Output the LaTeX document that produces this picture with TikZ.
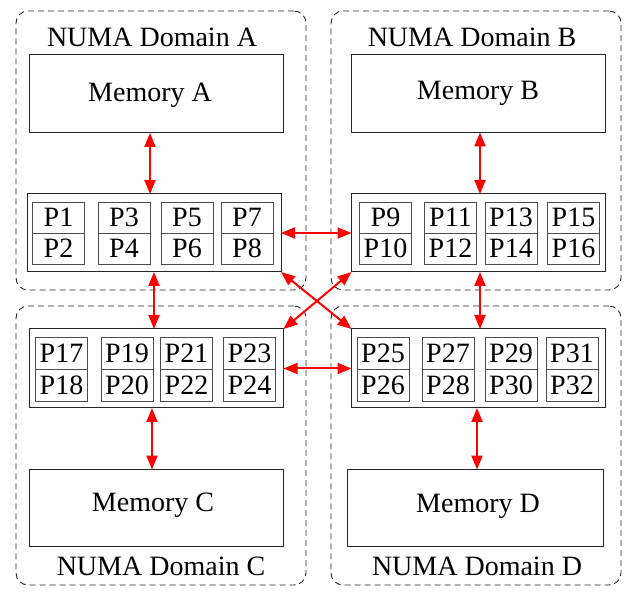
\documentclass[tikz,border=0pt]{standalone}
\usepackage{fontspec}
\setmainfont{Liberation Serif}
\usetikzlibrary{arrows.meta}
\begin{document}
\begin{tikzpicture}[x=1pt,y=-1pt,
  every node/.style={font=\fontsize{28}{30}\selectfont, inner sep=0pt, outer sep=0pt},
  numadom/.style={draw=black!85, line width=0.9pt, dash pattern=on 6pt off 4pt, rounded corners=12pt, minimum width=290pt, minimum height=279pt},
  membox/.style={draw=black!85, line width=1pt, minimum width=254pt, minimum height=78pt},
  procbox/.style={draw=black!85, line width=1pt, minimum width=254pt, minimum height=79pt},
  cell/.style={draw=black!70, line width=0.8pt, minimum width=52pt, minimum height=31pt},
  link/.style={draw=red, line width=2pt, {Triangle[length=14pt,width=11pt]}-{Triangle[length=14pt,width=11pt]}}
]
\useasboundingbox (0,0) rectangle (632,593);
% domains
\node[numadom] (domA) at (161,150.5) {};
\node[numadom] (domB) at (476,150.5) {};
\node[numadom] (domC) at (161,445.5) {};
\node[numadom] (domD) at (476,445.5) {};
\node (labA) at (152,37) {NUMA Domain A};
\node (labB) at (472,37) {NUMA Domain B};
\node (labC) at (161,566) {NUMA Domain C};
\node (labD) at (477,566) {NUMA Domain D};
% memories
\node[membox] (memA) at (156.5,94) {};
\node (memAtxt) at (150,95) {Memory A};
\node[membox] (memB) at (478,93.5) {Memory B};
\node[membox, minimum height=77pt] (memC) at (156.5,508) {};
\node (memCtxt) at (153,505) {Memory C};
\node[membox, minimum width=256pt, minimum height=77pt] (memD) at (475,508) {};
\node (memDtxt) at (478,506) {Memory D};
% processor boxes
\node[procbox, minimum height=78pt] (procA) at (154,233) {};
\node[procbox, minimum height=78pt] (procB) at (478.5,233) {};
\node[procbox] (procC) at (156.5,368.5) {};
\node[procbox] (procD) at (478.5,368.5) {};
% cells A
\node[cell] (p1) at (58.5,217.5) {P1};
\node[cell] (p2) at (58.5,248.5) {P2};
\node[cell] (p3) at (124,217.5) {P3};
\node[cell] (p4) at (124,248.5) {P4};
\node[cell] (p5) at (187,217.5) {P5};
\node[cell] (p6) at (187,248.5) {P6};
\node[cell] (p7) at (247,217.5) {P7};
\node[cell] (p8) at (247,248.5) {P8};
% cells B
\node[cell] (p9) at (385.5,217.5) {P9};
\node[cell] (p10) at (385.5,248.5) {P10};
\node[cell] (p11) at (450.5,217.5) {P11};
\node[cell] (p12) at (450.5,248.5) {P12};
\node[cell] (p13) at (511,217.5) {P13};
\node[cell] (p14) at (511,248.5) {P14};
\node[cell] (p15) at (573.5,217.5) {P15};
\node[cell] (p16) at (573.5,248.5) {P16};
% cells C
\node[cell, minimum height=32pt] (p17) at (61.5,353) {P17};
\node[cell, minimum height=32pt] (p18) at (61.5,385) {P18};
\node[cell, minimum height=32pt] (p19) at (127,353) {P19};
\node[cell, minimum height=32pt] (p20) at (127,385) {P20};
\node[cell, minimum height=32pt] (p21) at (186.5,353) {P21};
\node[cell, minimum height=32pt] (p22) at (186.5,385) {P22};
\node[cell, minimum height=32pt] (p23) at (249.5,353) {P23};
\node[cell, minimum height=32pt] (p24) at (249.5,385) {P24};
% cells D
\node[cell, minimum height=32pt] (p25) at (383,353) {P25};
\node[cell, minimum height=32pt] (p26) at (383,385) {P26};
\node[cell, minimum height=32pt] (p27) at (448,353) {P27};
\node[cell, minimum height=32pt] (p28) at (448,385) {P28};
\node[cell, minimum height=32pt] (p29) at (511,353) {P29};
\node[cell, minimum height=32pt] (p30) at (511,385) {P30};
\node[cell, minimum height=32pt] (p31) at (572,353) {P31};
\node[cell, minimum height=32pt] (p32) at (572,385) {P32};
% links
\draw[link] ([xshift=-6.5pt]memA.south) -- ([xshift=-6.5pt]memA.south |- procA.north);
\draw[link] ([xshift=2pt]memB.south) -- ([xshift=2pt]memB.south |- procB.north);
\draw[link] (procA.south) -- (procA.south |- procC.north);
\draw[link] ([xshift=1.5pt]procB.south) -- ([xshift=1.5pt]procB.south |- procD.north);
\draw[link] ([xshift=-4.5pt]procC.south) -- ([xshift=-4.5pt]procC.south |- memC.north);
\draw[link] ([xshift=-1.5pt]procD.south) -- ([xshift=-1.5pt]procD.south |- memD.north);
\draw[link] (procA.east) -- (procB.west);
\draw[link] (procC.east) -- (procD.west);
\draw[link] (procA.south east) -- (procD.north west);
\draw[link] (procB.south west) -- (procC.north east);
\end{tikzpicture}
\end{document}
